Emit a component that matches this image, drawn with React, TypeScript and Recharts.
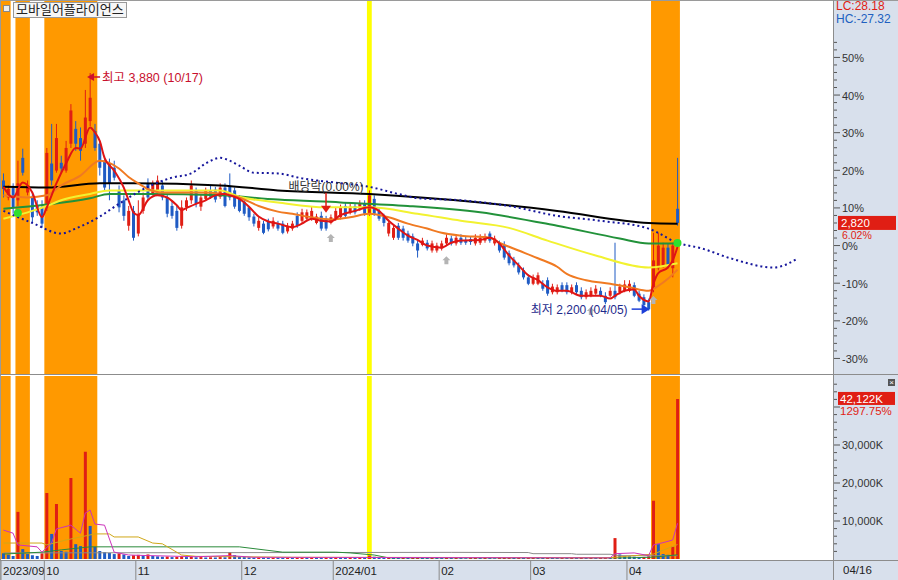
import React from 'react';
import { ComposedChart, Bar, Line, XAxis, YAxis, ReferenceArea, ReferenceDot, Cell } from 'recharts';

const FONT = '"Liberation Sans", "Noto Sans CJK KR", sans-serif';
const RED = '#e01e14';
const BLUE = '#1f5bc4';

const TITLE = '모바일어플라이언스';
const BASE = 2660;
const CURRENT = 2820;
const CUR_VOL = 42122;
const VOL_PCT_LABEL = '1297.75%';
const LAST_DATE = '04/16';
const N_SLOTS = 173;

const OPEN = [
  3120, 3000, 3070, 2980, 3280, 3035, 3000, 2940, 2930, 2930,
  3240, 3190, 3245, 3190, 3380, 3485, 3420, 3380, 3540, 3470,
  3380, 3260, 3240, 3210, 3050, 2980, 2800, 2905, 2745, 2905,
  3100, 3025, 3050, 3085, 3000, 2940, 2905, 2800, 2930, 2980,
  3050, 2935, 2990, 3050, 3055, 3005, 3070, 3075, 3050, 3000,
  2970, 2930, 2865, 2785, 2815, 2830, 2795, 2815, 2815, 2760,
  2780, 2870, 2835, 2850, 2850, 2820, 2870, 2850, 2820, 2850,
  2860, 2940, 2895, 2940, 2920, 2955, 2885, 2990, 2905, 2865,
  2745, 2715, 2800, 2780, 2745, 2725, 2675, 2665, 2680, 2625,
  2625, 2640, 2675, 2710, 2675, 2715, 2700, 2705, 2675, 2680,
  2695, 2745, 2675, 2675, 2665, 2605, 2560, 2520, 2485, 2435,
  2390, 2390, 2390, 2415, 2330, 2330, 2380, 2380, 2330, 2380,
  2340, 2295, 2305, 2320, 2340, 2305, 2305, 2340, 2330, 2340,
  2340, 2380, 2320, 2295, 2260, 2365, 2500, 2520, 2645, 2500,
  2920,
];
const HIGH = [
  3170, 3085, 3100, 3260, 3345, 3120, 3035, 2980, 2980, 3350,
  3520, 3520, 3295, 3400, 3660, 3540, 3495, 3760, 3880, 3520,
  3400, 3295, 3275, 3260, 3085, 3015, 2940, 2940, 2980, 3035,
  3135, 3120, 3155, 3120, 3025, 2980, 2940, 2980, 3000, 3120,
  3070, 3025, 3070, 3085, 3075, 3100, 3100, 3170, 3070, 3015,
  2990, 2940, 2885, 2860, 2835, 2850, 2860, 2835, 2835, 2820,
  2835, 2895, 2920, 2915, 2935, 2885, 2900, 2870, 2880, 2930,
  2950, 2965, 2955, 2955, 2980, 2980, 3050, 3015, 2930, 2885,
  2845, 2810, 2820, 2800, 2765, 2745, 2695, 2715, 2700, 2695,
  2680, 2695, 2740, 2730, 2740, 2740, 2725, 2725, 2740, 2740,
  2745, 2760, 2730, 2695, 2690, 2625, 2580, 2540, 2505, 2455,
  2455, 2470, 2415, 2435, 2390, 2385, 2400, 2400, 2385, 2400,
  2365, 2350, 2365, 2380, 2365, 2330, 2365, 2680, 2390, 2415,
  2415, 2400, 2340, 2315, 2285, 2750, 2750, 2680, 2675, 2680,
  3280,
];
const LOW = [
  3000, 2980, 2885, 2940, 3155, 3015, 2820, 2870, 2785, 2905,
  3085, 3175, 3175, 3175, 3350, 3330, 3260, 3350, 3505, 3330,
  3155, 3050, 2980, 3120, 2895, 2835, 2765, 2695, 2725, 2885,
  2980, 3015, 3025, 2980, 2860, 2850, 2765, 2780, 2905, 2955,
  2930, 2905, 2980, 2990, 2965, 2990, 2930, 2980, 2920, 2895,
  2870, 2835, 2795, 2765, 2740, 2760, 2780, 2765, 2740, 2745,
  2765, 2785, 2820, 2835, 2835, 2810, 2765, 2765, 2810, 2835,
  2845, 2860, 2880, 2880, 2905, 2870, 2870, 2870, 2835, 2795,
  2725, 2700, 2700, 2695, 2680, 2655, 2575, 2655, 2625, 2610,
  2610, 2625, 2660, 2660, 2660, 2665, 2665, 2665, 2660, 2665,
  2680, 2680, 2660, 2610, 2560, 2520, 2505, 2455, 2420, 2380,
  2380, 2380, 2340, 2305, 2315, 2315, 2330, 2315, 2315, 2315,
  2280, 2280, 2295, 2305, 2295, 2245, 2295, 2280, 2315, 2330,
  2330, 2295, 2260, 2225, 2200, 2330, 2485, 2505, 2500, 2435,
  2800,
];
const CLOSE = [
  3060, 3060, 2930, 3100, 3175, 3085, 2860, 2895, 2815, 3315,
  3120, 3420, 3205, 3350, 3615, 3380, 3330, 3565, 3705, 3350,
  3210, 3070, 3100, 3140, 2930, 2870, 2905, 2715, 2885, 3000,
  3000, 3100, 3120, 3000, 2885, 2870, 2785, 2930, 2980, 3085,
  2955, 3000, 3050, 3005, 2985, 3070, 2940, 3000, 2935, 2905,
  2885, 2860, 2815, 2835, 2750, 2775, 2835, 2780, 2750, 2800,
  2815, 2800, 2895, 2895, 2905, 2865, 2780, 2780, 2860, 2905,
  2930, 2870, 2935, 2895, 2955, 2885, 3015, 2885, 2850, 2820,
  2820, 2785, 2715, 2715, 2695, 2675, 2625, 2695, 2640, 2675,
  2660, 2675, 2715, 2675, 2715, 2680, 2680, 2685, 2715, 2715,
  2725, 2695, 2710, 2625, 2575, 2535, 2520, 2470, 2435, 2390,
  2435, 2450, 2355, 2320, 2370, 2365, 2340, 2330, 2365, 2330,
  2295, 2330, 2340, 2355, 2305, 2260, 2340, 2295, 2370, 2385,
  2390, 2305, 2270, 2240, 2210, 2555, 2660, 2645, 2520, 2660,
  2820,
];
// volume in thousands of shares
const VOLUME = [
  1500, 1100, 800, 12400, 2600, 1300, 1000, 800, 1500, 17400,
  6600, 14500, 2100, 1900, 21300, 3900, 3400, 28200, 8700, 3200,
  2100, 1800, 1600, 1300, 1500, 1200, 800, 1000, 1100, 900,
  1200, 800, 700, 600, 650, 500, 550, 700, 500, 600,
  450, 500, 400, 450, 400, 500, 450, 1800, 1000, 600,
  500, 450, 400, 450, 400, 350, 400, 350, 300, 350,
  300, 350, 400, 350, 400, 350, 300, 350, 300, 400,
  350, 300, 350, 300, 400, 350, 900, 600, 400, 350,
  400, 350, 300, 350, 300, 350, 400, 350, 300, 350,
  300, 250, 300, 250, 300, 250, 200, 250, 300, 250,
  300, 250, 200, 250, 300, 350, 300, 350, 300, 350,
  400, 350, 300, 350, 300, 250, 300, 250, 300, 250,
  300, 250, 300, 250, 300, 350, 300, 5500, 1200, 800,
  700, 600, 500, 550, 700, 15300, 3900, 1300, 1100, 3246,
  42122,
];

// moving averages / lines read as [slot, value]
const MA5: [number, number][] = [
  [0, 3075], [2, 3000], [4, 3105], [6, 3035], [8, 2860], [9, 2930], [11, 3100], [13, 3240], [15, 3350], [16, 3345],
  [18, 3495], [19, 3460], [20, 3400], [21, 3280], [23, 3190], [25, 3070], [26, 2980], [27, 2895], [28, 2875], [30, 2980],
  [32, 3015], [34, 3000], [36, 2945], [37, 2910], [38, 2925], [40, 2955], [42, 2980], [44, 3015], [46, 3025], [47, 3015],
  [49, 2990], [51, 2935], [53, 2865], [55, 2830], [57, 2815], [60, 2790], [62, 2815], [64, 2850], [66, 2835], [68, 2830],
  [70, 2875], [73, 2905], [76, 2930], [78, 2905], [80, 2835], [82, 2780], [84, 2730], [86, 2700], [88, 2660], [91, 2645],
  [93, 2680], [95, 2695], [99, 2700], [101, 2715], [103, 2675], [105, 2590], [107, 2520], [109, 2450], [111, 2415], [113, 2365],
  [115, 2340], [117, 2340], [120, 2305], [124, 2305], [126, 2285], [127, 2305], [129, 2340], [131, 2350], [132, 2305], [134, 2265],
  [135, 2390], [136, 2465], [138, 2505], [139, 2555], [140, 2650],
];
const MA20: [number, number][] = [
  [0, 3015], [5, 3000], [9, 3015], [12, 3085], [16, 3155], [20, 3260], [22, 3245], [24, 3205], [26, 3145], [28, 3100],
  [30, 3060], [33, 3035], [40, 3035], [46, 3025], [49, 3000], [53, 2940], [57, 2900], [60, 2885], [64, 2860], [68, 2845],
  [72, 2860], [76, 2885], [80, 2860], [84, 2815], [88, 2780], [91, 2750], [95, 2730], [101, 2715], [103, 2680], [107, 2625],
  [111, 2570], [115, 2510], [117, 2460], [121, 2415], [126, 2390], [130, 2365], [134, 2340], [136, 2375], [138, 2425], [140, 2490],
];
const MA60: [number, number][] = [
  [0, 2850], [6, 2905], [9, 2940], [12, 2980], [18, 3025], [22, 3050], [27, 3050], [45, 3050], [49, 3005], [57, 2965],
  [67, 2930], [76, 2930], [86, 2885], [95, 2835], [105, 2785], [113, 2695], [123, 2590], [134, 2505], [140, 2535],
];
const MA120: [number, number][] = [
  [0, 2920], [9, 2950], [18, 2995], [22, 3025], [30, 3025], [45, 3015], [57, 2985], [70, 2965], [84, 2940], [99, 2895],
  [115, 2800], [128, 2710], [134, 2675], [140, 2675],
];
const MA240: [number, number][] = [
  [0, 3075], [9, 3070], [20, 3100], [27, 3100], [45, 3085], [57, 3050], [76, 3025], [99, 2965], [115, 2905], [134, 2820],
  [140, 2815],
];
const CLOUD: [number, number][] = [
  [0, 2905], [6, 2820], [12, 2745], [15, 2780], [20, 2865], [24, 2955], [30, 3075], [35, 3140], [39, 3170], [42, 3240],
  [45, 3280], [47, 3260], [49, 3225], [52, 3175], [57, 3170], [62, 3135], [69, 3105], [76, 3075], [82, 3025], [86, 2995],
  [95, 2980], [105, 2940], [115, 2870], [124, 2835], [134, 2780], [140, 2680], [145, 2640], [151, 2570], [160, 2505], [165, 2570],
];
const VMA5: [number, number][] = [
  [0, 7600], [2, 6800], [3, 3700], [7, 3200], [8, 1800], [10, 4200], [11, 7900], [14, 8900], [16, 6800], [17, 12100],
  [18, 12900], [19, 9200], [21, 8900], [23, 1800], [26, 1050], [30, 900], [40, 600], [47, 900], [52, 450], [126, 300],
  [127, 1400], [131, 1600], [134, 900], [135, 3700], [137, 4300], [139, 5000], [140, 9400],
];
const VMA20: [number, number][] = [
  [0, 4200], [8, 4200], [9, 3700], [13, 5000], [19, 6600], [22, 6600], [23, 5800], [28, 5800], [31, 4200], [33, 4000],
  [37, 1050], [40, 700], [60, 450], [126, 350], [135, 1300], [140, 3800],
];
const VMA60: [number, number][] = [
  [0, 1300], [8, 1800], [12, 2400], [18, 3200], [49, 3200], [58, 1800], [69, 1800], [72, 1600], [77, 1050], [80, 300],
  [130, 300], [135, 500], [140, 1100],
];
const VMA120: [number, number][] = [
  [0, 1600], [93, 1750], [109, 1700], [110, 1400], [118, 1400], [119, 1250], [126, 1250], [128, 870], [140, 870],
];

const MONTH_TICKS = [0, 9, 28, 50, 69, 91, 110, 130];
const MONTH_LABELS = ['2023/09', '10', '11', '12', '2024/01', '02', '03', '04'];
const HOT_BANDS: [number, number][] = [[0, 1], [3, 5], [9, 19], [135, 140]];
const EXDIV_SLOT = 76;
const HIGH_MARK = { i: 18, price: 3880, label: '최고 3,880 (10/17)' };
const LOW_MARK = { i: 134, price: 2200, label: '최저 2,200 (04/05)' };
const EXDIV_MARK = { i: 67, price: 2870, label: '배당락(0.00%)' };
const UP_SIGNALS: [number, number][] = [[68, 2713], [92, 2557], [122, 2197], [135, 2275]];
const GREEN_DOTS: [number, number][] = [[3, 2890], [140, 2678]];

const PRICE_DOMAIN = [1752, 4396];
const VOL_DOMAIN = [0, 48160];

// ---- build table ----
const rows: any[] = Array.from({ length: N_SLOTS }, (_, i) => {
  const r: any = { i };
  if (i < OPEN.length) {
    r.o = OPEN[i]; r.h = HIGH[i]; r.l = LOW[i]; r.c = CLOSE[i];
    r.hl = [LOW[i], HIGH[i]];
    r.vol = VOLUME[i];
    r.volUp = i > 0 && VOLUME[i] >= VOLUME[i - 1];
  }
  return r;
});
const put = (key: string, pts: [number, number][]) => pts.forEach(([i, v]) => { rows[i][key] = v; });
put('ma5', MA5); put('ma20', MA20); put('ma60', MA60); put('ma120', MA120); put('ma240', MA240); put('cloud', CLOUD);
put('vma5', VMA5); put('vma20', VMA20); put('vma60', VMA60); put('vma120', VMA120);

const maxHigh = Math.max(...HIGH);
const minLow = Math.min(...LOW);
const lcText = `LC:${((CURRENT / minLow - 1) * 100).toFixed(2)}`;
const hcText = `HC:${((CURRENT / maxHigh - 1) * 100).toFixed(2)}`;
const curPct = `${((CURRENT / BASE - 1) * 100).toFixed(2)}%`;

const priceTicks: number[] = [];
for (let k = -15; k <= 27; k++) priceTicks.push(BASE * (1 + k * 0.02));
priceTicks.push(CURRENT);
const volTicks: number[] = [];
for (let v = 2000; v <= 46000; v += 2000) volTicks.push(v);
volTicks.push(CUR_VOL);

const fmt = (n: number) => n.toLocaleString('en-US');

const Candle = (props: any) => {
  const { x, y, width, height, payload } = props;
  if (!payload || payload.o == null) return null;
  const { o, h, l, c } = payload;
  const top = Math.min(y, y + height);
  const hh = Math.abs(height);
  const span = h - l || 1;
  const py = (v: number) => top + ((h - v) / span) * hh;
  const color = c >= o ? RED : BLUE;
  const cx = x + width / 2;
  const bTop = py(Math.max(o, c));
  const bBot = py(Math.min(o, c));
  return (
    <g>
      <line x1={cx} x2={cx} y1={top} y2={top + hh} stroke={color} strokeWidth={1} />
      <rect x={x} y={bTop} width={width} height={Math.max(1, bBot - bTop)} fill={color} />
    </g>
  );
};

const PriceTick = (props: any) => {
  const { x, y, payload } = props;
  const v = payload.value;
  if (v === CURRENT) {
    return (
      <g>
        <rect x={x + 4} y={y - 7} width={58} height={14} fill={RED} />
        <text x={x + 7} y={y + 4} fill="#fff" fontSize={11.5} fontFamily={FONT}>{fmt(CURRENT)}</text>
        <text x={x + 8} y={y + 16} fill={RED} fontSize={10.5} fontFamily={FONT}>{curPct}</text>
      </g>
    );
  }
  const k = Math.round((v / BASE - 1) * 50);
  const major = k % 5 === 0;
  return (
    <g>
      <line x1={x} x2={x + (major ? 6 : 3)} y1={y} y2={y} stroke="#555" />
      {major && <text x={x + 8} y={y + 4.5} fontSize={11} fill="#333" fontFamily={FONT}>{`${k * 2}%`}</text>}
    </g>
  );
};

const VolTick = (props: any) => {
  const { x, y, payload } = props;
  const v = payload.value;
  if (v === CUR_VOL) {
    return (
      <g>
        <rect x={x + 4} y={y - 7} width={57} height={13} fill={RED} />
        <text x={x + 6} y={y + 4} fill="#fff" fontSize={11.5} fontFamily={FONT}>{`${fmt(CUR_VOL)}K`}</text>
        <text x={x + 6} y={y + 16.5} fill={RED} fontSize={11.5} fontFamily={FONT}>{VOL_PCT_LABEL}</text>
      </g>
    );
  }
  const major = v % 10000 === 0;
  return (
    <g>
      <line x1={x} x2={x + (major ? 6 : 3)} y1={y} y2={y} stroke="#555" />
      {major && v < 40000 && <text x={x + 8} y={y + 4} fontSize={11} fill="#333" fontFamily={FONT}>{`${fmt(v)}K`}</text>}
    </g>
  );
};

const BAND_HALF = 833 / N_SLOTS / 2;
const MonthTick = (props: any) => {
  const { x, y, payload } = props;
  const idx = MONTH_TICKS.indexOf(payload.value);
  const bx = x - BAND_HALF;
  return (
    <g>
      <line x1={bx} x2={bx} y1={y + 2} y2={y + 21} stroke="#8a8a8a" />
      <text x={bx + 2} y={y + 16} fontSize={11.5} fill="#222" fontFamily={FONT}>{MONTH_LABELS[idx]}</text>
    </g>
  );
};

const HighShape = (p: any) => {
  const { cx, cy } = p;
  return (
    <g>
      <polygon points={`${cx - 3},${cy + 4} ${cx + 4},${cy} ${cx + 4},${cy + 8}`} fill="#d0102a" />
      <line x1={cx + 4} x2={cx + 10} y1={cy + 4} y2={cy + 4} stroke="#d0102a" strokeWidth={1.5} />
      <text x={cx + 12} y={cy + 9} fontSize={12.5} fill="#c8102e" fontFamily={FONT}>{HIGH_MARK.label}</text>
    </g>
  );
};
const LowShape = (p: any) => {
  const { cx, cy } = p;
  const ty = cy - 1.5;
  return (
    <g>
      <text x={cx - 21} y={cy + 3} fontSize={12} fill="#1e2a8c" textAnchor="end" fontFamily={FONT}>{LOW_MARK.label}</text>
      <line x1={cx - 17} x2={cx - 6} y1={ty} y2={ty} stroke="#1d3fd8" strokeWidth={1.5} />
      <polygon points={`${cx + 1},${ty} ${cx - 7},${ty - 5} ${cx - 7},${ty + 5}`} fill="#1d3fd8" />
    </g>
  );
};
const ExDivShape = (p: any) => {
  const { cx, cy } = p;
  return (
    <g>
      <text x={cx} y={cy - 25} fontSize={12} fill="#333" textAnchor="middle" fontFamily={FONT}>{EXDIV_MARK.label}</text>
      <line x1={cx} x2={cx} y1={cy - 23} y2={cy - 9} stroke="#e01e14" strokeWidth={1.5} />
      <polygon points={`${cx - 5},${cy - 10} ${cx + 5},${cy - 10} ${cx},${cy - 3}`} fill="#e01e14" />
    </g>
  );
};
const UpArrowShape = (p: any) => {
  const { cx, cy } = p;
  return (
    <polygon
      points={`${cx},${cy - 4} ${cx + 4},${cy} ${cx + 2},${cy} ${cx + 2},${cy + 4} ${cx - 2},${cy + 4} ${cx - 2},${cy} ${cx - 4},${cy}`}
      fill="#b4b4b4"
    />
  );
};
const GreenDotShape = (p: any) => <circle cx={p.cx} cy={p.cy} r={4} fill="#2ee02e" />;

const bands = (h: boolean) => [
  ...HOT_BANDS.map(([a, b], k) => (
    <ReferenceArea key={`hb${k}${h}`} x1={a} x2={b} fill="#ff9900" fillOpacity={1} stroke="none" ifOverflow="extendDomain" />
  )),
  <ReferenceArea key={`ex${h}`} x1={EXDIV_SLOT} x2={EXDIV_SLOT} fill="#ffff00" fillOpacity={1} stroke="none" />,
];

export default function App() {
  return (
    <div style={{ position: 'absolute', left: 0, top: 0, width: 898, height: 580, background: '#fff', fontFamily: FONT, overflow: 'hidden' }}>
      {/* panel backgrounds */}
      <div style={{ position: 'absolute', left: 834, top: 0, width: 64, height: 580, background: '#d8e0ec' }} />
      <div style={{ position: 'absolute', left: 0, top: 561, width: 898, height: 19, background: '#d8e0ec' }} />

      <div style={{ position: 'absolute', left: 0, top: 0 }}>
        <ComposedChart width={898} height={375} data={rows} margin={{ top: 0, right: 0, bottom: 1, left: 1 }}>
          <XAxis dataKey="i" type="category" hide />
          <YAxis orientation="right" width={64} domain={PRICE_DOMAIN} allowDataOverflow ticks={priceTicks} interval={0}
            tick={<PriceTick />} tickSize={0} tickMargin={0} axisLine={false} tickLine={false} />
          {bands(true)}
          <Line dataKey="ma240" stroke="#000" strokeWidth={2} dot={false} activeDot={false} connectNulls type="monotone" isAnimationActive={false} />
          <Line dataKey="ma120" stroke="#22923a" strokeWidth={2} dot={false} activeDot={false} connectNulls type="monotone" isAnimationActive={false} />
          <Line dataKey="ma60" stroke="#f2f230" strokeWidth={2} dot={false} activeDot={false} connectNulls type="monotone" isAnimationActive={false} />
          <Line dataKey="ma20" stroke="#f07a22" strokeWidth={2} dot={false} activeDot={false} connectNulls type="monotone" isAnimationActive={false} />
          <Line dataKey="cloud" stroke="#16169c" strokeWidth={2} strokeDasharray="2 3" dot={false} activeDot={false} connectNulls type="monotone" isAnimationActive={false} />
          <Bar dataKey="hl" barSize={3} shape={(p: any) => <Candle {...p} />} isAnimationActive={false} />
          <Line dataKey="ma5" stroke="#e01414" strokeWidth={2} dot={false} activeDot={false} connectNulls type="monotone" isAnimationActive={false} />
          {GREEN_DOTS.map(([i, v], k) => (
            <ReferenceDot key={`g${k}`} x={i} y={v} r={4} shape={(p: any) => <GreenDotShape {...p} />} />
          ))}
          {UP_SIGNALS.map(([i, v], k) => (
            <ReferenceDot key={`u${k}`} x={i} y={v} r={4} shape={(p: any) => <UpArrowShape {...p} />} />
          ))}
          <ReferenceDot x={HIGH_MARK.i} y={HIGH_MARK.price} r={3} shape={(p: any) => <HighShape {...p} />} />
          <ReferenceDot x={LOW_MARK.i} y={LOW_MARK.price} r={3} shape={(p: any) => <LowShape {...p} />} />
          <ReferenceDot x={EXDIV_MARK.i} y={EXDIV_MARK.price} r={3} shape={(p: any) => <ExDivShape {...p} />} />
        </ComposedChart>
      </div>

      <div style={{ position: 'absolute', left: 0, top: 375 }}>
        <ComposedChart width={898} height={205} data={rows} margin={{ top: 1, right: 0, bottom: 0, left: 1 }}>
          <XAxis dataKey="i" type="category" ticks={MONTH_TICKS} interval={0} height={21} tick={<MonthTick />}
            tickSize={0} tickMargin={0} axisLine={false} tickLine={false} />
          <YAxis orientation="right" width={64} domain={VOL_DOMAIN} allowDataOverflow ticks={volTicks} interval={0}
            tick={<VolTick />} tickSize={0} tickMargin={0} axisLine={false} tickLine={false} />
          {bands(false)}
          <Bar dataKey="vol" barSize={3} isAnimationActive={false}>
            {rows.map((r) => (
              <Cell key={r.i} fill={r.volUp ? RED : BLUE} />
            ))}
          </Bar>
          <Line dataKey="vma120" stroke="#8a8a8a" strokeWidth={1} dot={false} activeDot={false} connectNulls type="linear" isAnimationActive={false} />
          <Line dataKey="vma60" stroke="#2a8a3a" strokeWidth={1} dot={false} activeDot={false} connectNulls type="linear" isAnimationActive={false} />
          <Line dataKey="vma20" stroke="#d0a818" strokeWidth={1} dot={false} activeDot={false} connectNulls type="linear" isAnimationActive={false} />
          <Line dataKey="vma5" stroke="#cc33bb" strokeWidth={1} dot={false} activeDot={false} connectNulls type="linear" isAnimationActive={false} />
        </ComposedChart>
      </div>

      {/* frame lines */}
      <div style={{ position: 'absolute', left: 0, top: 0, width: 898, height: 1, background: '#9a9a9a' }} />
      <div style={{ position: 'absolute', left: 0, top: 0, width: 1, height: 580, background: '#9a9a9a' }} />
      <div style={{ position: 'absolute', left: 833, top: 0, width: 1, height: 580, background: '#8c8c8c' }} />
      <div style={{ position: 'absolute', left: 0, top: 374, width: 898, height: 1, background: '#8c8c8c' }} />
      <div style={{ position: 'absolute', left: 0, top: 560, width: 898, height: 1, background: '#8c8c8c' }} />

      {/* title */}
      <div style={{ position: 'absolute', left: 3, top: 5, width: 5, height: 5, border: '1px solid #888', background: '#eee' }} />
      <div style={{ position: 'absolute', left: 13, top: 2, height: 14, lineHeight: '14px', padding: '0 2px', border: '1px solid #999', background: '#f6f6f6', fontSize: 13, color: '#222', whiteSpace: 'nowrap' }}>
        {TITLE}
      </div>

      {/* axis captions */}
      <div style={{ position: 'absolute', left: 836, top: 0, fontSize: 12, lineHeight: '13px', color: RED }}>{lcText}</div>
      <div style={{ position: 'absolute', left: 836, top: 13, fontSize: 12, lineHeight: '13px', color: '#2060c0' }}>{hcText}</div>
      <div style={{ position: 'absolute', left: 888, top: 379, width: 7, height: 7, background: '#555', color: '#fff', fontSize: 8, lineHeight: '7px', textAlign: 'center' }}>×</div>
      <div style={{ position: 'absolute', left: 843, top: 563, fontSize: 11.5, lineHeight: '14px', color: '#222' }}>{LAST_DATE}</div>
    </div>
  );
}
